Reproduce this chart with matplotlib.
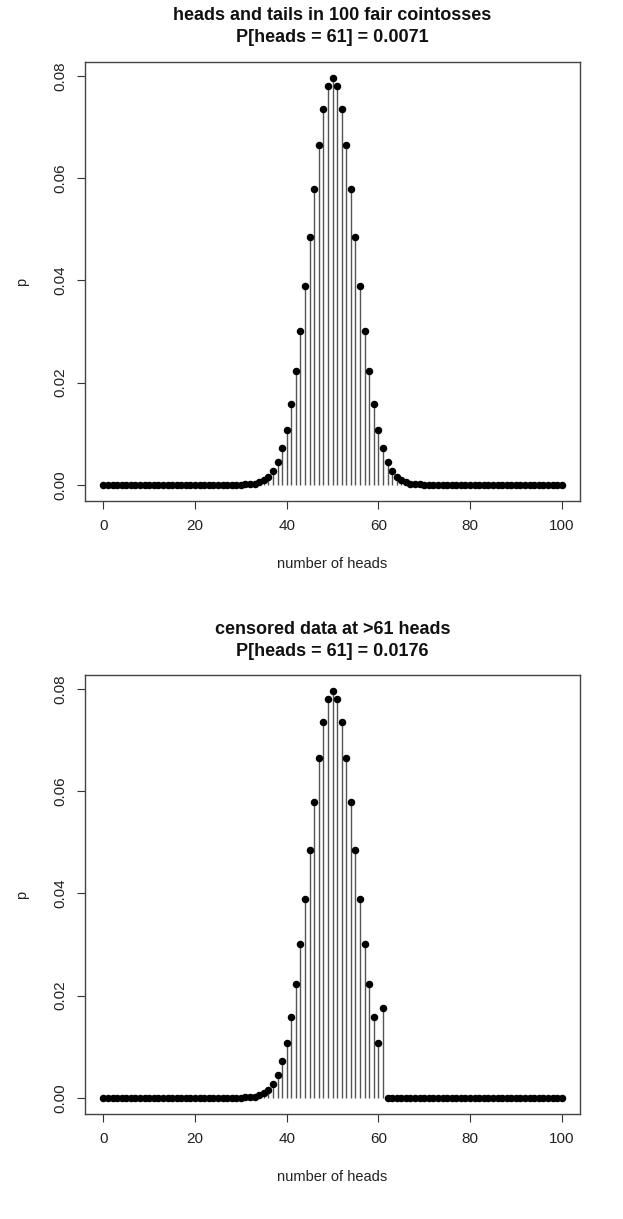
import matplotlib
matplotlib.use("Agg")
import matplotlib.pyplot as plt

plt.rcParams['font.family'] = ['Liberation Sans', 'DejaVu Sans']

# number of heads, 0..100
heads = list(range(101))

# binomial(100, 0.5) probabilities
p_full = [
    0, 0, 0, 0, 0, 0, 0, 0, 0, 0,
    0, 0, 0, 0, 0, 0, 0, 0, 0, 0,
    0, 0, 0, 0, 0, 0, 0, 0, 0, 0,
    0.0000, 0.0001, 0.0001, 0.0002, 0.0005, 0.0009, 0.0016, 0.0027, 0.0045, 0.0071,
    0.0108, 0.0159, 0.0223, 0.0301, 0.0390, 0.0485, 0.0580, 0.0666, 0.0735, 0.0780,
    0.0796,
    0.0780, 0.0735, 0.0666, 0.0580, 0.0485, 0.0390, 0.0301, 0.0223, 0.0159, 0.0108,
    0.0071, 0.0045, 0.0027, 0.0016, 0.0009, 0.0005, 0.0002, 0.0001, 0.0001, 0.0000,
    0, 0, 0, 0, 0, 0, 0, 0, 0, 0,
    0, 0, 0, 0, 0, 0, 0, 0, 0, 0,
    0, 0, 0, 0, 0, 0, 0, 0, 0, 0,
]

# censored at >61: everything from 61 up lumped into 61
p_cens = [
    0, 0, 0, 0, 0, 0, 0, 0, 0, 0,
    0, 0, 0, 0, 0, 0, 0, 0, 0, 0,
    0, 0, 0, 0, 0, 0, 0, 0, 0, 0,
    0.0000, 0.0001, 0.0001, 0.0002, 0.0005, 0.0009, 0.0016, 0.0027, 0.0045, 0.0071,
    0.0108, 0.0159, 0.0223, 0.0301, 0.0390, 0.0485, 0.0580, 0.0666, 0.0735, 0.0780,
    0.0796,
    0.0780, 0.0735, 0.0666, 0.0580, 0.0485, 0.0390, 0.0301, 0.0223, 0.0159, 0.0108,
    0.0176, 0, 0, 0, 0, 0, 0, 0, 0, 0,
    0, 0, 0, 0, 0, 0, 0, 0, 0, 0,
    0, 0, 0, 0, 0, 0, 0, 0, 0, 0,
    0, 0, 0, 0, 0, 0, 0, 0, 0, 0,
]

titles = [
    ("heads and tails in 100 fair cointosses", "P[heads = 61] = 0.0071"),
    ("censored data at >61 heads", "P[heads = 61] = 0.0176"),
]
xticks = [0, 20, 40, 60, 80, 100]
yticks = [0.00, 0.02, 0.04, 0.06, 0.08]

W, H = 623, 1219
fig = plt.figure(figsize=(W / 100, H / 100), dpi=100)

# axes boxes in pixels: left, top, right, bottom
boxes = [(85, 62, 580, 501), (85, 675, 580, 1114)]
# title line centres (pixels from top)
title_y = [(15, 38), (629, 651)]

for (l, t, r, b), p, (t1, t2), (y1, y2) in zip(boxes, [p_full, p_cens], titles, title_y):
    ax = fig.add_axes([l / W, 1 - b / H, (r - l) / W, (b - t) / H])
    ax.vlines(heads, 0, p, colors='#555555', lw=1)
    ax.plot(heads, p, 'o', color='black', ms=4.4)
    ax.set_xlim(-4, 104)
    ax.set_ylim(-0.00318, 0.08277)
    ax.set_xticks(xticks)
    ax.set_yticks(yticks)
    ax.set_yticklabels([f"{v:.2f}" for v in yticks], rotation=90, va='center')
    ax.tick_params(direction='out', length=6, width=0.8, colors='#333333',
                   labelsize=11, labelcolor='#222222', pad=7)
    for s in ax.spines.values():
        s.set_color('#444444')
        s.set_linewidth(1)
    ax.set_xlabel("number of heads", fontsize=10.5, color='#222222', labelpad=17)
    ax.set_ylabel("p", fontsize=10.5, color='#222222', labelpad=17)
    cx = (l + r) / 2 / W
    fig.text(cx, 1 - y1 / H, t1, ha='center', va='center', fontsize=13,
             fontweight='bold', color='#111111')
    fig.text(cx, 1 - y2 / H, t2, ha='center', va='center', fontsize=13,
             fontweight='bold', color='#111111')

fig.savefig("out.png", dpi=100)
